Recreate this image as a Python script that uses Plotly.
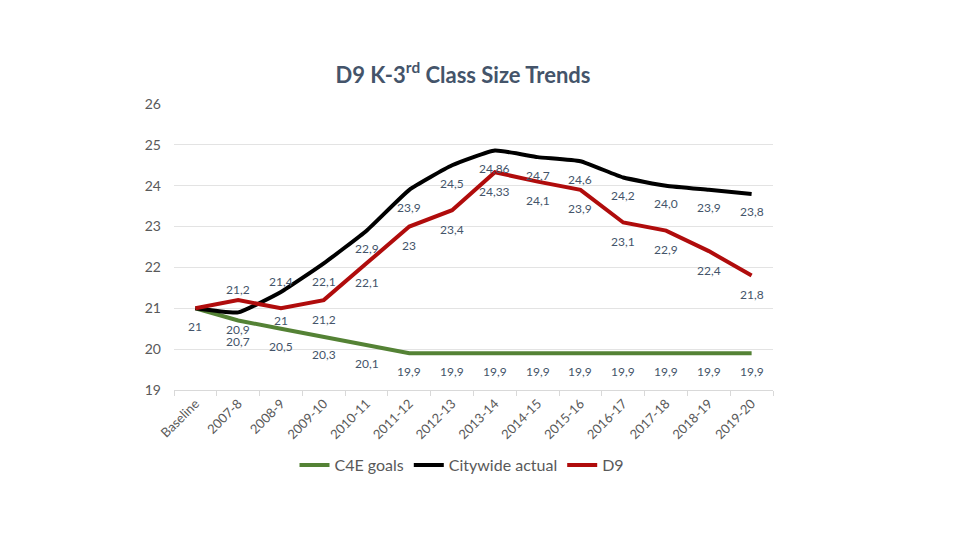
import plotly.graph_objects as go

categories = ["Baseline", "2007-8", "2008-9", "2009-10", "2010-11", "2011-12", "2012-13",
              "2013-14", "2014-15", "2015-16", "2016-17", "2017-18", "2018-19", "2019-20"]

c4e_goals = [21, 20.7, 20.5, 20.3, 20.1, 19.9, 19.9, 19.9, 19.9, 19.9, 19.9, 19.9, 19.9, 19.9]
citywide = [21, 20.9, 21.4, 22.1, 22.9, 23.9, 24.5, 24.86, 24.7, 24.6, 24.2, 24.0, 23.9, 23.8]
d9 = [21, 21.2, 21.0, 21.2, 22.1, 23.0, 23.4, 24.33, 24.1, 23.9, 23.1, 22.9, 22.4, 21.8]

c4e_labels = ["21", "20,7", "20,5", "20,3", "20,1", "19,9", "19,9", "19,9", "19,9", "19,9", "19,9", "19,9", "19,9", "19,9"]
city_labels = ["", "20,9", "21,4", "22,1", "22,9", "23,9", "24,5", "24,86", "24,7", "24,6", "24,2", "24,0", "23,9", "23,8"]
d9_labels = ["", "21,2", "21", "21,2", "22,1", "23", "23,4", "24,33", "24,1", "23,9", "23,1", "22,9", "22,4", "21,8"]

y_ticks = [19, 20, 21, 22, 23, 24, 25, 26]

FONT = "Lato"
LABEL_COLOR = "#44546A"

fig = go.Figure()
fig.add_trace(go.Scatter(
    x=categories, y=c4e_goals, name="C4E goals", mode="lines",
    line=dict(color="#548235", width=4)))
fig.add_trace(go.Scatter(
    x=categories, y=citywide, name="Citywide actual", mode="lines",
    line=dict(color="#000000", width=4, shape="spline", smoothing=0.4)))
fig.add_trace(go.Scatter(
    x=categories, y=d9, name="D9", mode="lines",
    line=dict(color="#B00C0C", width=4)))

# data labels (below the point by default, a few above)
city_shift = [-18] * len(categories)
city_shift[1] = -17
city_shift[2] = 10
d9_shift = [-19] * len(categories)
d9_shift[1] = 11
d9_shift[2] = -12
c4e_shift = [-18] * len(categories)
c4e_shift[1] = -21

annotations = []
for vals, labels, shifts in [(c4e_goals, c4e_labels, c4e_shift),
                             (citywide, city_labels, city_shift),
                             (d9, d9_labels, d9_shift)]:
    for cat, v, lab, s in zip(categories, vals, labels, shifts):
        if not lab:
            continue
        annotations.append(dict(
            x=cat, y=v, xref="x", yref="y", text=lab, showarrow=False,
            yshift=s, xanchor="center", yanchor="middle",
            font=dict(family=FONT, size=12, color=LABEL_COLOR)))

# page has an 8px body margin; figure coordinates are offset accordingly
L, T, PW, PH = 166, 96, 599, 286

fig.update_layout(
    width=960, height=540,
    paper_bgcolor="white", plot_bgcolor="white",
    margin=dict(l=L, r=960 - L - PW, t=T, b=540 - T - PH, autoexpand=False),
    title=dict(text="<b>D9 K-3<sup>rd</sup> Class Size Trends</b>",
               x=455 / 960, xanchor="center", y=1 - 67 / 540, yanchor="middle",
               font=dict(family=FONT, size=22, color="#44546A")),
    showlegend=True,
    legend=dict(orientation="h", x=(454 - L) / PW, xanchor="center",
                y=-(457 - (T + PH)) / PH, yanchor="middle",
                font=dict(family=FONT, size=16, color="#595959"),
                itemwidth=30, traceorder="normal"),
    annotations=annotations,
    xaxis=dict(type="category", showgrid=False, showline=True, linecolor="#D9D9D9",
               ticks="outside", ticklen=5, tickcolor="#D9D9D9", tickson="boundaries",
               tickangle=-45, tickfont=dict(family=FONT, size=13, color="#595959"),
               range=[-0.5, len(categories) - 0.5], automargin=False),
    yaxis=dict(range=[19, 26], tickvals=y_ticks, showgrid=True, gridcolor="#E3E3E3",
               zeroline=False, showline=False, ticks="", ticklabelstandoff=12,
               tickfont=dict(family=FONT, size=14, color="#595959"), automargin=False),
)

fig.write_html("out.html")
